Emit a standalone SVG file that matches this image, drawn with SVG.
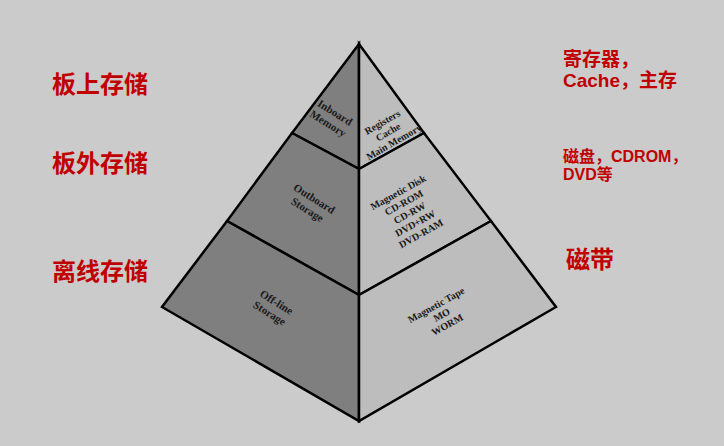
<svg xmlns="http://www.w3.org/2000/svg" width="724" height="446" viewBox="0 0 724 446">
<style>
.bg{fill:#cbcbcb}
.lf{fill:#7f7f7f;stroke:#000;stroke-width:2.5;stroke-linejoin:miter}
.rf{fill:#bdbdbd;stroke:#000;stroke-width:2.5;stroke-linejoin:miter}
.tl{font-family:"Liberation Serif","Times New Roman",serif;font-weight:bold;font-size:11px;fill:#1a1a1a;text-anchor:middle}
.tr{font-family:"Liberation Serif","Times New Roman",serif;font-weight:bold;font-size:10px;fill:#1a1a1a;text-anchor:middle}
.red{font-family:"Noto Sans CJK SC","Noto Sans",sans-serif;font-weight:bold;fill:#c00000}
.redm{font-family:"Liberation Sans","Noto Sans CJK SC",sans-serif;font-weight:bold;fill:#c00000}
</style>
<rect class="bg" x="0" y="0" width="724" height="446"/>
<g id="tier-top">
<polygon class="lf" points="359,44 292,133 359,169"/>
<polygon class="rf" points="359,44 424,133 359,169"/>
<text class="tl" transform="translate(331.7,117.8) rotate(32)"><tspan x="0" y="-2.5">Inboard</tspan><tspan x="0" y="10.5">Memory</tspan></text>
<text class="tr" transform="translate(388,132) rotate(-30)"><tspan x="0" y="-8">Registers</tspan><tspan x="0" y="3.5">Cache</tspan><tspan x="0" y="15">Main Memory</tspan></text>
</g>
<g id="tier-middle">
<polygon class="lf" points="292,133 359,169 359,295 227,221"/>
<polygon class="rf" points="359,169 424,133 491,221 359,295"/>
<text class="tl" transform="translate(311,204) rotate(32)"><tspan x="0" y="-2.5">Outboard</tspan><tspan x="0" y="10.5">Storage</tspan></text>
<text class="tr" transform="translate(409.5,212.8) rotate(-29)"><tspan x="0" y="-20">Magnetic Disk</tspan><tspan x="0" y="-8.2">CD-ROM</tspan><tspan x="0" y="3.6">CD-RW</tspan><tspan x="0" y="15.4">DVD+RW</tspan><tspan x="0" y="27.2">DVD-RAM</tspan></text>
</g>
<g id="tier-bottom">
<polygon class="lf" points="227,221 359,295 359,421 162,307"/>
<polygon class="rf" points="359,295 491,221 556,307 359,421"/>
<text class="tl" transform="translate(273.2,307.5) rotate(32)"><tspan x="0" y="-2.5">Off-line</tspan><tspan x="0" y="10.5">Storage</tspan></text>
<text class="tr" transform="translate(441.7,314.8) rotate(-29)"><tspan x="0" y="-7.8">Magnetic Tape</tspan><tspan x="0" y="3.5">MO</tspan><tspan x="0" y="14.8">WORM</tspan></text>
</g>
<g id="labels-left">
<text class="red" x="52" y="93" font-size="24">板上存储</text>
<text class="red" x="52" y="172" font-size="24">板外存储</text>
<text class="red" x="52" y="280" font-size="24">离线存储</text>
</g>
<g id="labels-right">
<text class="redm" font-size="19"><tspan x="563" y="65.5">寄存器，</tspan><tspan x="563" y="87">Cache，主存</tspan></text>
<text class="redm" font-size="16"><tspan x="563" y="161.5">磁盘，CDROM，</tspan><tspan x="563" y="180">DVD等</tspan></text>
<text class="red" x="566" y="268" font-size="24">磁带</text>
</g>
</svg>
